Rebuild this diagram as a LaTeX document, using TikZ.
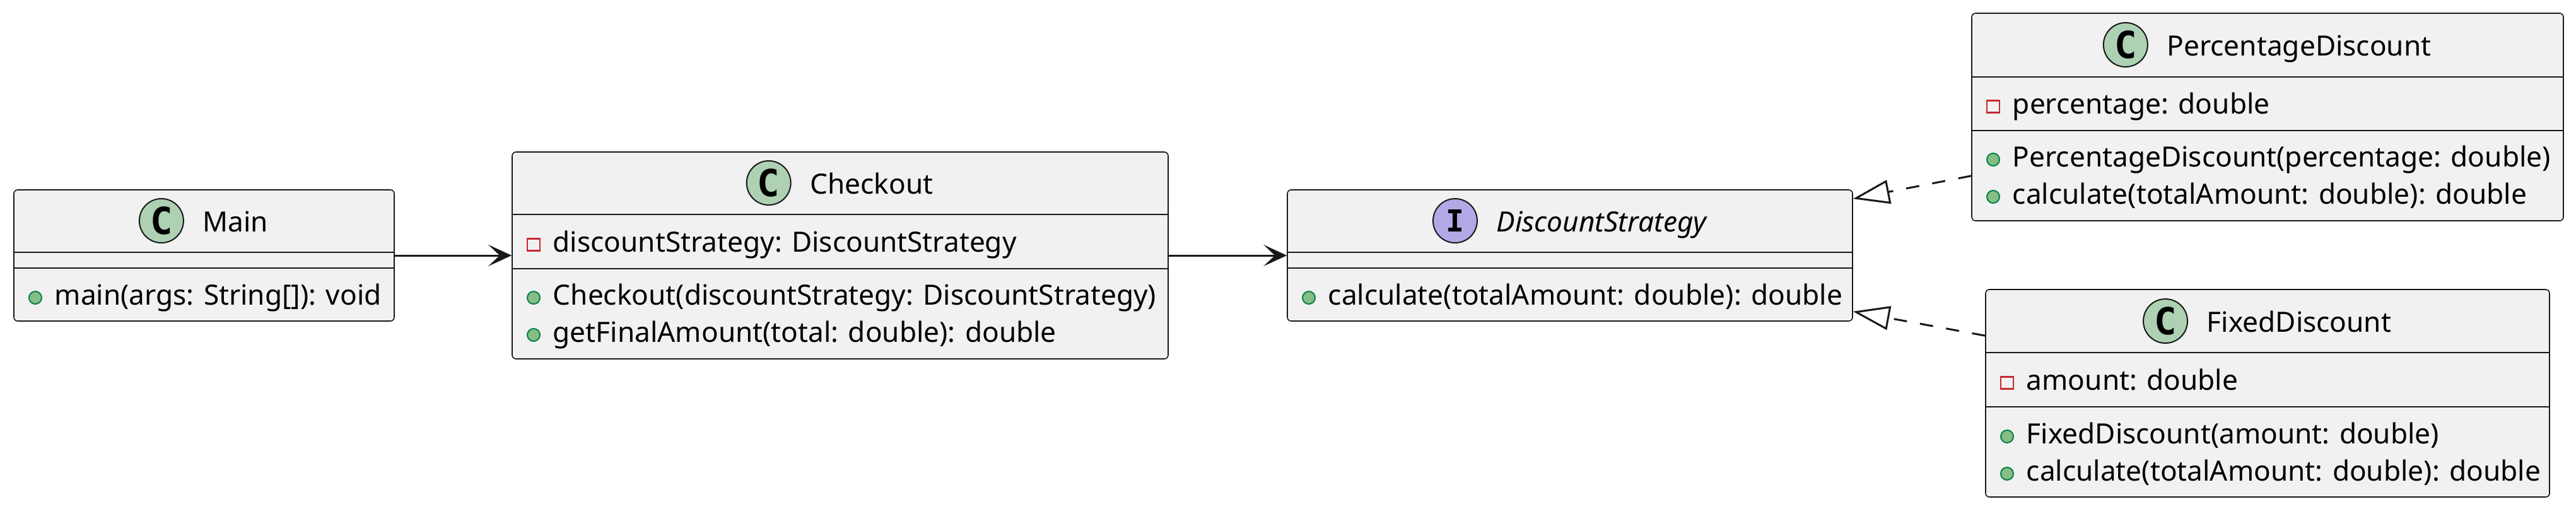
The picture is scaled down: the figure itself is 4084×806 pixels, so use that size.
\documentclass[tikz,border=0pt]{standalone}
\usepackage{fontspec}
\setmainfont{Noto Sans}
\newfontfamily\iconfont{DejaVu Sans Mono}
\usetikzlibrary{arrows.meta,calc,fit}
\definecolor{bd}{HTML}{181818}
\definecolor{bg}{HTML}{F1F1F1}
\definecolor{cgreen}{HTML}{ADD1B2}
\definecolor{ipurple}{HTML}{B4A7E5}
\definecolor{pvred}{HTML}{C82930}
\definecolor{pubfill}{HTML}{84BE84}
\definecolor{publine}{HTML}{038048}
\begin{document}
\begin{tikzpicture}[x=0.25pt,y=-0.25pt,
 umlbox/.style={draw=bd, fill=bg, line width=0.4pt, rounded corners=1.5pt, inner sep=0pt},
 sepline/.style={draw=bd, line width=0.4pt},
 member/.style={anchor=base west, inner sep=0pt, font=\fontsize{11.05pt}{13pt}\selectfont},
 clsname/.style={anchor=base, inner sep=0pt, font=\fontsize{11.05pt}{13pt}\selectfont},
 ccirc/.style={circle, draw=bd, line width=0.5pt, fill=cgreen, minimum size=17.5pt, inner sep=0pt, font=\iconfont\bfseries\fontsize{14.75pt}{15pt}\selectfont},
 icirc/.style={circle, draw=bd, line width=0.5pt, fill=ipurple, minimum size=17.5pt, inner sep=0pt, font=\iconfont\bfseries\fontsize{12pt}{13pt}\selectfont},
 priv/.style={rectangle, draw=pvred, line width=0.6pt, minimum width=5pt, minimum height=4.75pt, inner sep=0pt},
 pub/.style={circle, draw=publine, fill=pubfill, line width=0.5pt, minimum size=5pt, inner sep=0pt},
 assoc/.style={draw=bd, line width=0.75pt, -{Stealth[length=9.25pt, width=8.5pt, inset=4.5pt]}},
 realize/.style={draw=bd, line width=0.75pt, dash pattern=on 5.25pt off 5.25pt, -{Triangle[open, length=14.5pt, width=9.5pt]}},
]
\path[use as bounding box] (0,0) rectangle (4084,806);

% Main
\node[umlbox, fit={(22,301) (625,509)}] (main) {};
\draw[sepline] (22,400) -- (625,400);
\draw[sepline] (22,425) -- (625,425);
\node[clsname] (mainname) at (373.5,367) {Main};
\node[ccirc] (maincirc) at ($(mainname.base west)+(-65,-17)$) {C};
\node[pub] (mainp1) at (56,472) {};
\node[member] (mainm1) at (86,483) {main(args: String[]): void};

% Checkout
\node[umlbox, fit={(812,241) (1852,569)}] (checkout) {};
\draw[sepline] (812,340) -- (1852,340);
\draw[sepline] (812,426) -- (1852,426);
\node[clsname] (checkoutname) at (1382,307) {Checkout};
\node[ccirc] (checkoutcirc) at ($(checkoutname.base west)+(-65,-17)$) {C};
\node[priv] (checkouta1i) at (846,388) {};
\node[member] (checkouta1) at (876,399) {discountStrategy: DiscountStrategy};
\node[pub] (checkoutm1i) at (846,472) {};
\node[member] (checkoutm1) at (876,483) {Checkout(discountStrategy: DiscountStrategy)};
\node[pub] (checkoutm2i) at (846,531) {};
\node[member] (checkoutm2) at (876,542) {getFinalAmount(total: double): double};

% DiscountStrategy
\node[umlbox, fit={(2041,301) (2937,509)}] (ds) {};
\draw[sepline] (2041,400) -- (2937,400);
\draw[sepline] (2041,425) -- (2937,425);
\node[clsname, font=\fontsize{11.05pt}{13pt}\selectfont\itshape] (dsname) at (2539,367) {DiscountStrategy};
\node[icirc] (dscirc) at ($(dsname.base west)+(-65,-17)$) {I};
\node[pub] (dsm1i) at (2075,472) {};
\node[member] (dsm1) at (2105,483) {calculate(totalAmount: double): double};

% PercentageDiscount
\node[umlbox, fit={(3126,21) (4064,350)}] (pd) {};
\draw[sepline] (3126,122) -- (4064,122);
\draw[sepline] (3126,207) -- (4064,207);
\node[clsname] (pdname) at (3645,88) {PercentageDiscount};
\node[ccirc] (pdcirc) at ($(pdname.base west)+(-65,-17)$) {C};
\node[priv] (pda1i) at (3160,169) {};
\node[member] (pda1) at (3190,180) {percentage: double};
\node[pub] (pdm1i) at (3160,253) {};
\node[member] (pdm1) at (3190,264) {PercentageDiscount(percentage: double)};
\node[pub] (pdm2i) at (3160,312) {};
\node[member] (pdm2) at (3190,323) {calculate(totalAmount: double): double};

% FixedDiscount
\node[umlbox, fit={(3148,459) (4042,788)}] (fd) {};
\draw[sepline] (3148,559) -- (4042,559);
\draw[sepline] (3148,645) -- (4042,645);
\node[clsname] (fdname) at (3645,526) {FixedDiscount};
\node[ccirc] (fdcirc) at ($(fdname.base west)+(-65,-17)$) {C};
\node[priv] (fda1i) at (3182,607) {};
\node[member] (fda1) at (3212,618) {amount: double};
\node[pub] (fdm1i) at (3182,692) {};
\node[member] (fdm1) at (3212,703) {FixedDiscount(amount: double)};
\node[pub] (fdm2i) at (3182,751) {};
\node[member] (fdm2) at (3212,762) {calculate(totalAmount: double): double};

% connectors
\draw[assoc] (main.east) -- (checkout.west);
\draw[assoc] (checkout.east) -- (ds.west);
\draw[realize] ($(pd.south west)+(0,-72)$) -- ($(ds.north east)+(0,15)$);
\draw[realize] ($(fd.north west)+(0,74)$) -- ($(ds.south east)+(0,-16)$);
\end{tikzpicture}
\end{document}
